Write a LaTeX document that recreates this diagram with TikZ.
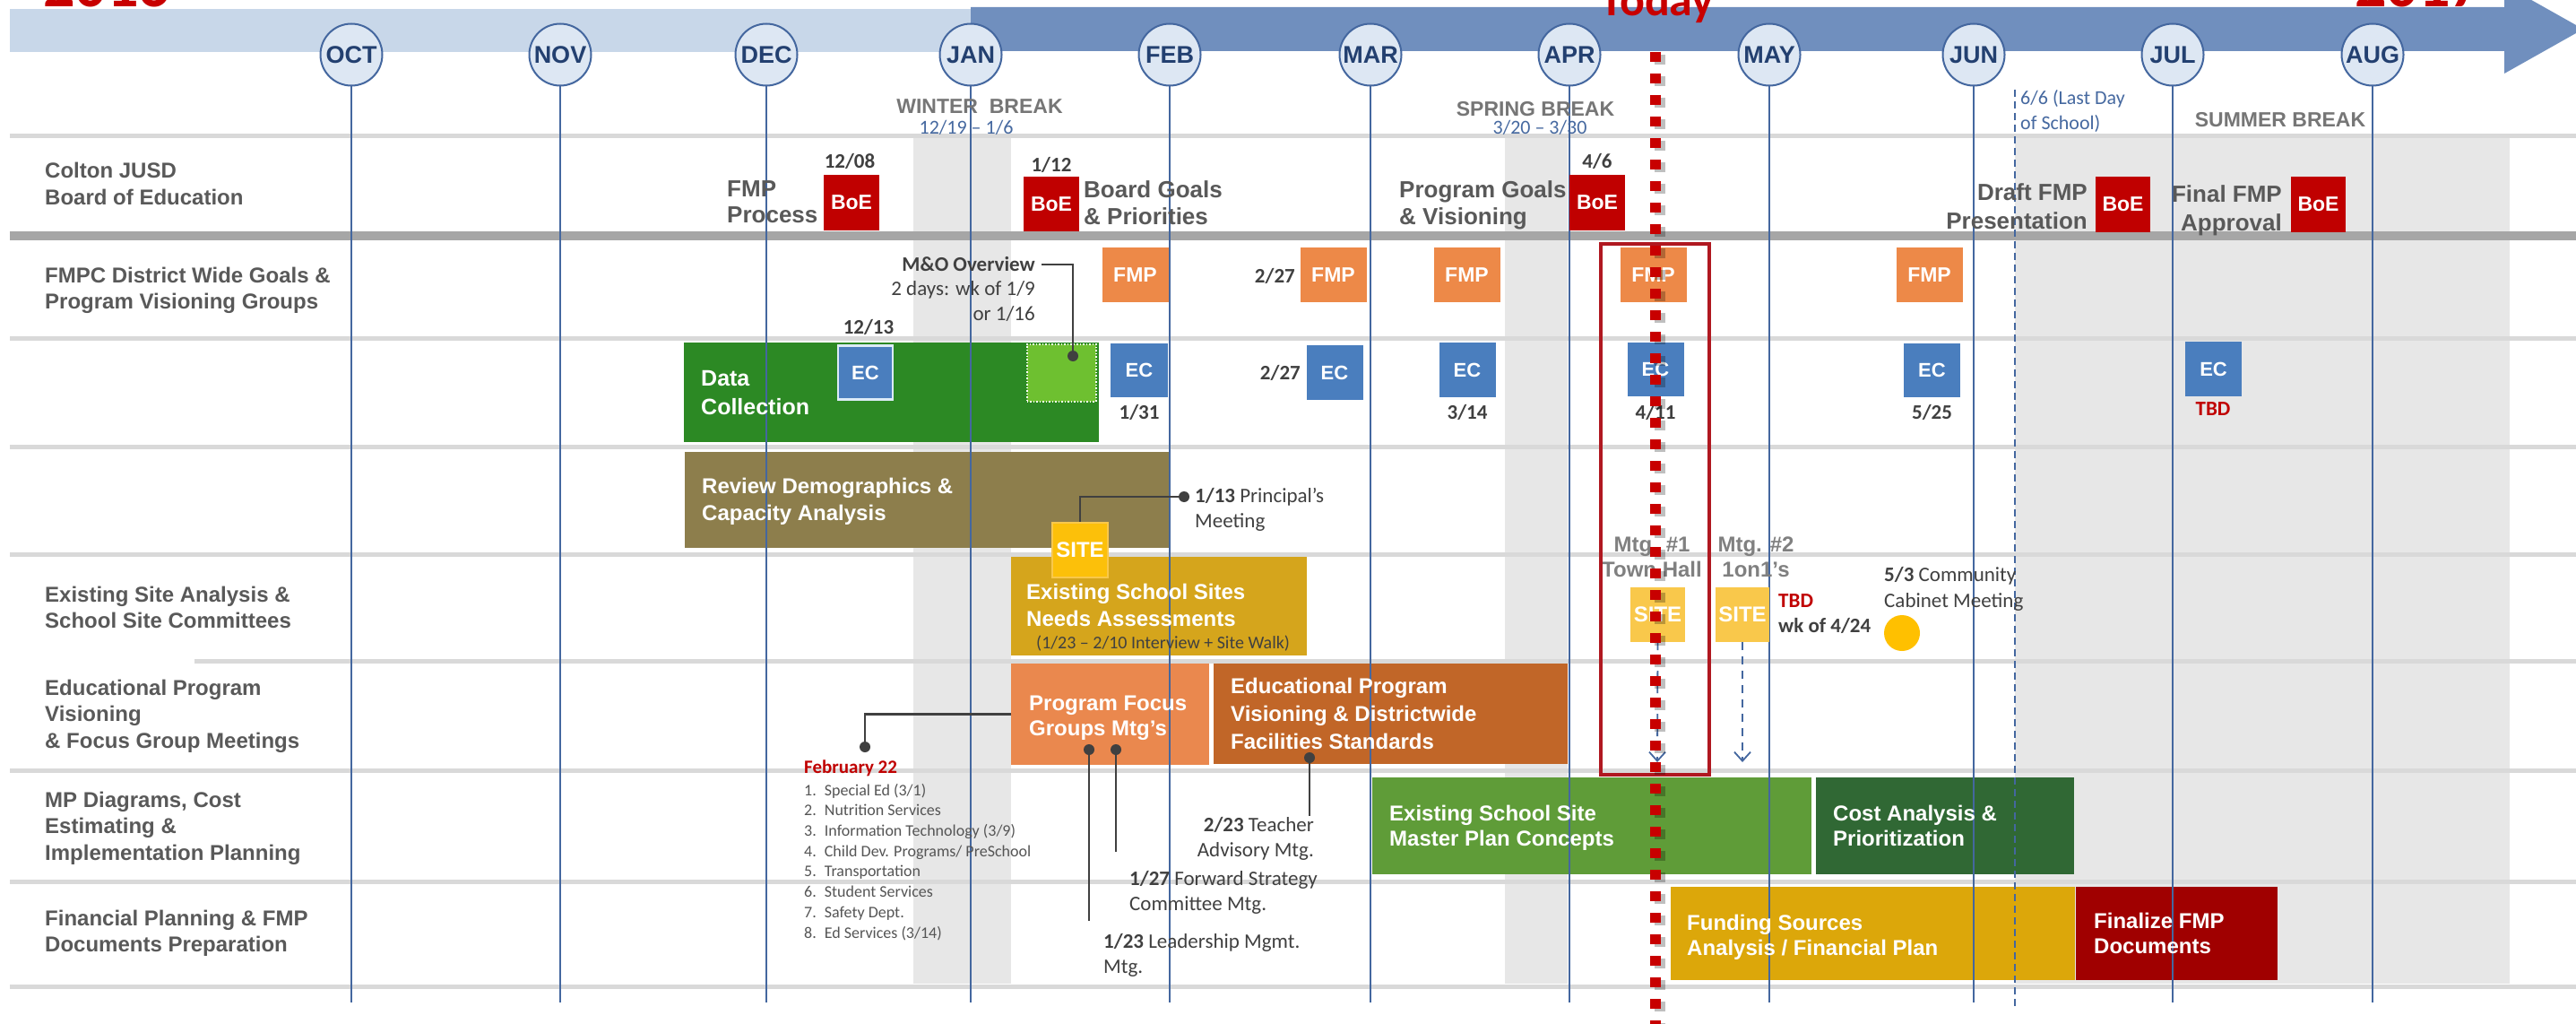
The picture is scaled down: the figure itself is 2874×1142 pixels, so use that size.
\documentclass[tikz,border=0pt]{standalone}
\usepackage{fontspec}
\setmainfont{Liberation Sans}[Ligatures=TeX]
\newfontfamily\calfont{Carlito}[Ligatures=TeX]
\usetikzlibrary{arrows.meta}
\newcommand\fsz[2]{\fontsize{#1}{#2}\selectfont}
\definecolor{headlight}{RGB}{200,215,233}
\definecolor{headdark}{RGB}{112,143,190}
\definecolor{bandgray}{RGB}{231,231,231}
\definecolor{sepgray}{RGB}{217,217,217}
\definecolor{thickgray}{RGB}{166,166,166}
\definecolor{mlinec}{RGB}{68,103,159}
\definecolor{circfill}{RGB}{221,231,243}
\definecolor{monthtxt}{RGB}{35,64,112}
\definecolor{lblgray}{RGB}{89,89,89}
\definecolor{brkgray}{RGB}{118,118,118}
\definecolor{brkblue}{RGB}{70,105,160}
\definecolor{boered}{RGB}{192,0,0}
\definecolor{fmporange}{RGB}{237,137,72}
\definecolor{ecblue}{RGB}{74,126,190}
\definecolor{ecborder}{RGB}{220,235,247}
\definecolor{dcgreen}{RGB}{44,137,36}
\definecolor{mogreen}{RGB}{110,192,48}
\definecolor{olive}{RGB}{141,126,76}
\definecolor{sitegold}{RGB}{213,165,28}
\definecolor{siteyel}{RGB}{252,192,10}
\definecolor{siteyelb}{RGB}{249,200,75}
\definecolor{focusor}{RGB}{234,136,78}
\definecolor{eduor}{RGB}{193,102,40}
\definecolor{mpgreen}{RGB}{95,156,56}
\definecolor{costgreen}{RGB}{48,104,52}
\definecolor{fundgold}{RGB}{220,167,10}
\definecolor{finred}{RGB}{160,0,0}
\definecolor{txtdark}{RGB}{64,64,64}
\definecolor{listgray}{RGB}{85,85,85}
\definecolor{mtggray}{RGB}{128,128,128}
\definecolor{todayred}{RGB}{200,0,0}
\definecolor{boxred}{RGB}{176,24,32}
\definecolor{circyel}{RGB}{255,192,0}
\begin{document}
\begin{tikzpicture}[x=1pt,y=-1pt,
  mline/.style={draw=mlinec, line width=2pt},
  mcirc/.style={circle, draw=mlinec, line width=2pt, fill=circfill, minimum size=69pt, inner sep=0pt, text=monthtxt, font=\bfseries\fsz{27}{30}},
  seprow/.style={draw=sepgray, line width=5pt},
  barbox/.style={anchor=north west, inner sep=0pt, draw=none},
  bartext/.style={anchor=base west, align=left, inner sep=0pt, text=white, font=\bfseries\fsz{24}{29}},
  rowlbl/.style={anchor=base west, align=left, inner sep=0pt, text=lblgray, font=\bfseries\fsz{24}{29.5}},
  chartlbl/.style={anchor=base west, align=left, inner sep=0pt, text=lblgray, font=\bfseries\fsz{26}{29.5}},
  sqbox/.style={rectangle, inner sep=0pt, minimum width=62pt, minimum height=61pt, text=white, font=\bfseries\fsz{23}{26}},
  boe/.style={sqbox, fill=boered},
  fmpbox/.style={sqbox, fill=fmporange, minimum width=74pt},
  ecbox/.style={sqbox, fill=ecblue, minimum width=63pt, font=\bfseries\fsz{22}{26}},
  sitebox/.style={sqbox, font=\bfseries\fsz{24}{26}},
  datelbl/.style={anchor=base, inner sep=0pt, text=txtdark, font=\calfont\bfseries\fsz{23}{26}},
  notelbl/.style={anchor=base west, align=left, inner sep=0pt, text=txtdark, font=\calfont\fsz{23}{28}},
  brklbl/.style={anchor=base, inner sep=0pt, text=brkgray, font=\bfseries\fsz{23}{26}},
  brkdate/.style={anchor=base, inner sep=0pt, text=brkblue, font=\calfont\fsz{22}{27}},
  mtglbl/.style={anchor=base, align=center, inner sep=0pt, text=mtggray, font=\bfseries\fsz{24}{28}},
  conn/.style={draw=txtdark, line width=2.5pt},
  dotmark/.style={circle, fill=txtdark, inner sep=0pt, minimum size=12pt},
  dasharrow/.style={draw=mlinec, line width=1.8pt, dash pattern=on 9pt off 7pt, -{Straight Barb[length=10pt,width=18pt,line width=1.8pt]}},
]
\useasboundingbox (0,0) rectangle (2874,1142);
\fill[white] (0,0) rectangle (2874,1142);

% shaded break bands
\fill[bandgray] (1019,152) rectangle (1128,1097);
\fill[bandgray] (1679,152) rectangle (1749,1097);
\fill[bandgray] (2248,152) rectangle (2800,1097);

% header timeline bands
\fill[headlight] (11,10) rectangle (1083,58);
\fill[headdark] (1083,8) -- (2794,8) -- (2794,-17) -- (2882,32.5) -- (2794,82) -- (2794,57) -- (1083,57) -- cycle;

% years
\node[anchor=base west, inner sep=0pt, text=todayred, font=\calfont\bfseries\fsz{70}{70}] (y16) at (48,8) {2016};
\node[anchor=base west, inner sep=0pt, text=todayred, font=\calfont\bfseries\fsz{70}{70}] (y17) at (2627,8) {2017};

% month circles
\foreach \m/\x in {OCT/392,NOV/625,DEC/855,JAN/1083,FEB/1305,MAR/1529,APR/1751,MAY/1974,JUN/2202,JUL/2424,AUG/2647}{
  \node[mcirc] (m\m) at (\x,61) {\m};
}

% row separators
\draw[seprow] (11,152) -- (2874,152);
\draw[draw=thickgray, line width=10pt] (11,263) -- (2874,263);
\draw[seprow] (11,377) -- (2874,377);
\draw[seprow] (11,498) -- (2874,498);
\draw[seprow] (11,618) -- (2874,618);
\draw[seprow] (217,737) -- (2874,737);
\draw[seprow] (11,859) -- (2874,859);
\draw[seprow] (11,983) -- (2874,983);
\draw[seprow] (11,1100) -- (2874,1100);

% bars
\node[barbox, fill=dcgreen, minimum width=463pt, minimum height=111pt] (dcbar) at (763,382) {};
\node[barbox, fill=olive, minimum width=541pt, minimum height=107pt] (revbar) at (764,504) {};
\node[barbox, fill=sitegold, minimum width=330pt, minimum height=110pt] (essbar) at (1128,621) {};
\node[barbox, fill=focusor, minimum width=221pt, minimum height=113pt] (focusbar) at (1128,740) {};
\node[barbox, fill=eduor, minimum width=395pt, minimum height=112pt] (edubar) at (1354,740) {};
\node[barbox, fill=mpgreen, minimum width=490pt, minimum height=108pt] (mpbar) at (1531,867) {};
\node[barbox, fill=costgreen, minimum width=288pt, minimum height=108pt] (costbar) at (2026,867) {};
\node[barbox, fill=fundgold, minimum width=451pt, minimum height=104pt] (fundbar) at (1864,989) {};
\node[barbox, fill=finred, minimum width=225pt, minimum height=104pt] (finbar) at (2316,989) {};

% M&O light green box
\node[barbox, fill=mogreen, draw=white, dotted, line width=1.5pt, minimum width=77pt, minimum height=64pt] (mobox) at (1145,383) {};

% month lines (from circles down) and 6/6 dashed line
\foreach \m/\x in {OCT/392,NOV/625,DEC/855,JAN/1083,FEB/1305,MAR/1529,APR/1751,MAY/1974,JUN/2202,JUL/2424,AUG/2647}{
  \coordinate (e\m) at (\x,1118);
  \draw[mline] (m\m.south) -- (e\m);
}
\coordinate (lds) at (2248,100);
\coordinate (lde) at (2248,1123);
\draw[draw=mlinec, line width=1.6pt, dash pattern=on 8pt off 5pt] (lds) -- (lde);

% header texts
\node[brklbl] (wb) at (1093,127) {WINTER\ \ BREAK};
\node[brkdate] (wbd) at (1078,150) {12/19 – 1/6};
\node[brklbl] (sb) at (1713,130) {SPRING BREAK};
\node[brkdate] (sbd) at (1718,150) {3/20 – 3/30};
\node[anchor=base west, align=left, inner sep=0pt, text=brkblue, font=\calfont\fsz{22}{28}] (ldtxt) at (2254,145) {6/6 (Last Day\\of School)};
\node[brklbl] (sumb) at (2544,142) {SUMMER BREAK};

% row labels (anchored at the baseline of the last line)
\node[rowlbl] (r1) at (50,228.5) {Colton JUSD\\Board of Education};
\node[rowlbl] (r2) at (50,344.5) {FMPC District Wide Goals \&\\Program Visioning Groups};
\node[rowlbl] (r5) at (50,700.5) {Existing Site Analysis \&\\School Site Committees};
\node[rowlbl] (r6) at (50,834) {Educational Program\\Visioning\\\& Focus Group Meetings};
\node[rowlbl] (r7) at (50,959) {MP Diagrams, Cost\\Estimating \&\\Implementation Planning};
\node[rowlbl] (r8) at (50,1061.5) {Financial Planning \& FMP\\Documents Preparation};

% Board of Education row
\node[chartlbl] (fmpproc) at (811,248.5) {FMP\\Process};
\node[boe] (boe1) at (950,226) {BoE};
\node[datelbl] (d1208) at (948,188) {12/08};
\node[boe] (boe2) at (1173,227.5) {BoE};
\node[datelbl] (d112) at (1173,192) {1/12};
\node[chartlbl] (bgoals) at (1209,250.5) {Board Goals\\\& Priorities};
\node[chartlbl] (pgoals) at (1561,250.5) {Program Goals\\\& Visioning};
\node[boe] (boe3) at (1782,226) {BoE};
\node[datelbl] (d46) at (1782,188) {4/6};
\node[chartlbl, anchor=base east, align=right, font=\bfseries\fsz{26}{32}] (draft) at (2329,255) {Draft FMP\\Presentation};
\node[boe, minimum width=61pt] (boe4) at (2368.5,228) {BoE};
\node[chartlbl, anchor=base east, align=right, font=\bfseries\fsz{26}{32}] (final) at (2546,257) {Final FMP\\Approval};
\node[boe, minimum width=61pt] (boe5) at (2586.5,228) {BoE};

% FMP row
\node[fmpbox] (f1) at (1266.5,306.5) {FMP};
\node[fmpbox] (f2) at (1487.5,306.5) {FMP};
\node[datelbl, anchor=base east] (d227a) at (1445,315) {2/27};
\node[fmpbox] (f3) at (1636.5,306.5) {FMP};
\node[fmpbox] (f4) at (1844.5,306.5) {FMP};
\node[fmpbox] (f5) at (2152.5,306.5) {FMP};
\node[notelbl, anchor=base east, align=right, font=\calfont\fsz{23}{27.5}] (motxt) at (1155,357) {\textbf{M\&O Overview}\\2 days: wk of 1/9\\or 1/16};
\coordinate (mo1) at (1162,295);
\node[dotmark] (dmo) at (1197,397) {};
\draw[conn] (mo1) -| (dmo);

% EC row
\node[datelbl] (d1213) at (969,372) {12/13};
\node[ecbox, draw=ecborder, line width=2.5pt, minimum width=61pt, minimum height=60pt] (ec1) at (965.5,415.5) {EC};
\node[bartext, font=\bfseries\fsz{25}{32}] (dctxt) at (782,462) {Data\\Collection};
\node[ecbox, minimum width=64pt, minimum height=60pt] (ec2) at (1271,413) {EC};
\node[datelbl] (d131) at (1271,467) {1/31};
\node[ecbox] (ec3) at (1489,415.5) {EC};
\node[datelbl, anchor=base east] (d227b) at (1451,423) {2/27};
\node[ecbox] (ec4) at (1637,412.5) {EC};
\node[datelbl] (d314) at (1637,467) {3/14};
\node[ecbox, minimum height=60pt] (ec5) at (1847,412) {EC};
\node[datelbl] (d411) at (1847,467) {4/11};
\node[ecbox, minimum height=60pt] (ec6) at (2155.5,413) {EC};
\node[datelbl] (d525) at (2155.5,467) {5/25};
\node[ecbox] (ec7) at (2469.5,411.5) {EC};
\node[datelbl, text=boered] (dtbd) at (2469,463) {TBD};

% Review demographics row
\node[bartext, font=\bfseries\fsz{24}{30}] (revtxt) at (783,580) {Review Demographics \&\\Capacity Analysis};
\node[sitebox, fill=siteyel, draw=siteyelb, line width=1.5pt] (site1) at (1205,613.5) {SITE};
\node[dotmark] (dp) at (1321,554) {};
\draw[conn] (dp) -| (site1.north);
\node[notelbl] (prin) at (1333,588) {\textbf{1/13} Principal’s\\Meeting};

% Existing site analysis row
\node[bartext, font=\bfseries\fsz{24}{30}] (esstxt) at (1145,698) {Existing School Sites\\Needs Assessments};
\node[anchor=base west, inner sep=0pt, text=txtdark, font=\calfont\fsz{20}{24}] (esswalk) at (1156,723) {(1/23 – 2/10 Interview + Site Walk)};
\node[mtglbl] (mtg1) at (1843,643) {Mtg. \#1\\Town Hall};
\node[mtglbl] (mtg2) at (1959,643) {Mtg. \#2\\1on1’s};
\node[sitebox, fill=siteyelb, minimum width=61pt] (site2) at (1849.5,685.5) {SITE};
\node[sitebox, fill=siteyelb, minimum width=60pt] (site3) at (1944,685.5) {SITE};
\node[anchor=base west, inner sep=0pt, text=boered, font=\calfont\bfseries\fsz{23}{26}] (tbd2) at (1984,677) {TBD};
\node[anchor=base west, inner sep=0pt, text=txtdark, font=\calfont\bfseries\fsz{23}{26}] (wk424) at (1984,705) {wk of 4/24};
\node[notelbl, font=\calfont\fsz{23}{29}] (comm) at (2102,677) {\textbf{5/3} Community\\Cabinet Meeting};
\node[circle, fill=circyel, inner sep=0pt, minimum size=40pt] (ycirc) at (2122,706) {};
\coordinate (a2e) at (1849,850);
\coordinate (a3e) at (1944,850);
\draw[dasharrow] (site2.south) -- (a2e);
\draw[dasharrow] (site3.south) -- (a3e);

% Educational program row
\node[bartext, font=\bfseries\fsz{24}{28}] (focustxt) at (1148,820) {Program Focus\\Groups Mtg’s};
\node[bartext, font=\bfseries\fsz{24}{31}] (edutxt) at (1373,835) {Educational Program\\Visioning \& Districtwide\\Facilities Standards};
\node[dotmark] (dfeb) at (965,833) {};
\draw[conn] (focusbar.west) -| (dfeb);
\node[anchor=base west, inner sep=0pt, text=boered, font=\calfont\bfseries\fsz{21}{24}] (febt) at (897,862) {February 22};
\node[anchor=base west, align=left, inner sep=0pt, text=listgray, font=\calfont\fsz{18}{22.7}] (feblist) at (897,1046) {1.\enspace Special Ed (3/1)\\2.\enspace Nutrition Services\\3.\enspace Information Technology (3/9)\\4.\enspace Child Dev. Programs/ PreSchool\\5.\enspace Transportation\\6.\enspace Student Services\\7.\enspace Safety Dept.\\8.\enspace Ed Services (3/14)};
\node[dotmark] (df1) at (1215,836) {};
\node[dotmark] (df2) at (1245,836) {};
\node[dotmark] (dtch) at (1461,845) {};
\coordinate (df1e) at (1215,1027);
\coordinate (df2e) at (1245,950);
\coordinate (dtche) at (1461,910);
\draw[conn] (df1) -- (df1e);
\draw[conn] (df2) -- (df2e);
\draw[conn] (dtch) -- (dtche);
\node[notelbl, anchor=base east, align=right] (teach) at (1466,955) {\textbf{2/23} Teacher\\Advisory Mtg.};
\node[notelbl] (fwd) at (1260,1015) {\textbf{1/27} Forward Strategy\\Committee Mtg.};
\node[notelbl] (lead) at (1231,1085) {\textbf{1/23} Leadership Mgmt.\\Mtg.};

% MP diagrams row
\node[bartext, font=\bfseries\fsz{24}{28}] (mptxt) at (1550,943) {Existing School Site\\Master Plan Concepts};
\node[bartext, font=\bfseries\fsz{24}{28}] (costtxt) at (2045,943) {Cost Analysis \&\\Prioritization};

% Financial row
\node[bartext, font=\bfseries\fsz{24}{28}] (fundtxt) at (1882,1065) {Funding Sources\\Analysis / Financial Plan};
\node[bartext, font=\bfseries\fsz{24}{28}] (fintxt) at (2336,1063) {Finalize FMP\\Documents};

% highlight box
\node[anchor=north west, draw=boxred, line width=4pt, inner sep=0pt, minimum width=121pt, minimum height=592pt] (hl) at (1784,270) {};

% Today line
\coordinate (tdtop) at (1847,58);
\coordinate (tdbot) at (1847,1142);
\coordinate (tdtops) at (1852,61);
\coordinate (tdbots) at (1852,1145);
\draw[draw=black, opacity=0.25, line width=12pt, dash pattern=on 11pt off 13pt] (tdtops) -- (tdbots);
\draw[draw=todayred, line width=12pt, dash pattern=on 11pt off 13pt] (tdtop) -- (tdbot);
\node[anchor=base, inner sep=0pt, text=todayred, font=\calfont\bfseries\fsz{52}{56}] (today) at (1849,18) {Today};
\end{tikzpicture}
\end{document}
